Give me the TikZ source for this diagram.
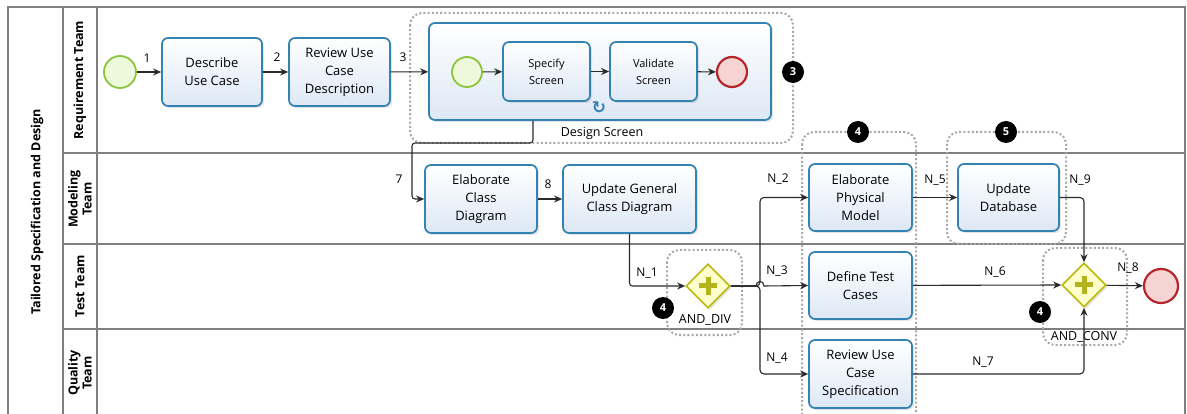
\documentclass[tikz,border=0pt]{standalone}
\usepackage{fontspec}
\setmainfont{Open Sans}
\newfontfamily\symfont{DejaVu Sans}
\usetikzlibrary{shapes.geometric,arrows.meta,shadows}
\definecolor{taskline}{HTML}{3383B2}
\definecolor{taskfill}{HTML}{DDE8F5}
\definecolor{startline}{HTML}{8CC43C}
\definecolor{startfill}{HTML}{EEF8DA}
\definecolor{endline}{HTML}{B5262B}
\definecolor{endfill}{HTML}{F7D4D4}
\definecolor{gwline}{HTML}{B9B80C}
\definecolor{gwfill}{HTML}{FFFFCC}
\definecolor{plusc}{HTML}{B3B31C}
\definecolor{flowc}{HTML}{2A2A2A}
\definecolor{grpc}{HTML}{A8A8A8}
\definecolor{framec}{HTML}{7F7F7F}
\tikzset{
  task/.style={draw=taskline,line width=1.7pt,rounded corners=6pt,top color=white,bottom color=taskfill,
    align=center,inner sep=1pt,font=\fontsize{13}{18}\selectfont,
    drop shadow={shadow xshift=2pt,shadow yshift=-2pt,opacity=.2}},
  subtask/.style={task,font=\fontsize{11}{17}\selectfont},
  startev/.style={circle,draw=startline,line width=1.8pt,fill=startfill,inner sep=0pt},
  endev/.style={circle,draw=endline,line width=2.2pt,fill=endfill,inner sep=0pt},
  gate/.style={diamond,draw=gwline,line width=1.6pt,fill=gwfill,inner sep=0pt,minimum size=44pt,
    drop shadow={shadow xshift=2pt,shadow yshift=-2pt,opacity=.2}},
  plus/.style={draw=plusc,line width=5pt},
  flow/.style={draw=flowc,line width=1.1pt,-{Stealth[length=8pt,width=7pt]}},
  lbl/.style={font=\fontsize{12}{14}\selectfont,inner sep=0pt},
  badge/.style={circle,fill=black,text=white,font=\bfseries\fontsize{11}{11}\selectfont,inner sep=0pt,minimum size=22pt},
  grp/.style={draw=grpc,line width=2pt,dash pattern=on 2pt off 2.2pt,rounded corners=12pt},
  lanetitle/.style={rotate=90,align=center,font=\bfseries\fontsize{12.5}{14}\selectfont},
  frm/.style={draw=framec,line width=1.2pt}
}
\begin{document}
\begin{tikzpicture}[x=1pt,y=-1pt]
%\draw[step=50,gray,very thin] (0,0) grid (1187,414); %background grid
\clip (0,0) rectangle (1187,414);
\fill[white] (0,0) rectangle (1187,414);

\draw[frm] (8,420) -- (8,7) -- (1185,7) -- (1185,420);
\draw[frm] (63,7) -- (63,420);
\draw[frm] (97,7) -- (97,420);
\draw[frm] (63,153) -- (1185,153);
\draw[frm] (63,244) -- (1185,244);
\draw[frm] (63,329) -- (1185,329);

\node[lanetitle] (pool) at (37,212) {Tailored Specification and Design};
\node[lanetitle] (lreq) at (80,80) {Requirement Team};
\node[lanetitle] (lmod) at (80,199) {Modeling\\Team};
\node[lanetitle] (ltest) at (80,286) {Test Team};
\node[lanetitle] (lqual) at (80,373) {Quality\\Team};

\draw[grp] (410,13) rectangle (793,143);
\draw[grp] (667,250) rectangle (742,335);
\draw[grp] (802,132) rectangle (916,430);
\draw[grp] (947,132) rectangle (1066,244);
\draw[grp] (1043,248) rectangle (1127,345);

\node[startev,minimum size=32pt] (start) at (120,72) {};
\node[task,minimum width=100pt,minimum height=68pt] (dsc) at (212,72) {Describe\\Use Case};
\node[task,minimum width=101pt,minimum height=68pt] (rev) at (339.5,72) {Review Use\\Case\\Description};
\node[task,minimum width=342pt,minimum height=97pt] (ds) at (600,71.5) {};
\node[startev,minimum size=30pt] (s0) at (467,72) {};
\node[subtask,minimum width=87pt,minimum height=59pt] (spec) at (546.5,71.5) {Specify\\Screen};
\node[subtask,minimum width=87pt,minimum height=59pt] (val) at (653.5,71.5) {Validate\\Screen};
\node[endev,minimum size=30pt] (e0) at (732,72) {};
\node[text=taskline,inner sep=0pt,font=\symfont\bfseries\fontsize{17}{17}\selectfont] (loop) at (599,108) {↻};
\node[font=\fontsize{12.5}{14}\selectfont] (dslbl) at (602,133) {Design Screen};

\node[task,minimum width=112pt,minimum height=68pt] (ecd) at (481,199) {Elaborate\\Class\\Diagram};
\node[task,minimum width=133pt,minimum height=68pt] (ugc) at (629.5,199) {Update General\\Class Diagram};
\node[task,minimum width=103pt,minimum height=67pt] (epm) at (860.5,197.5) {Elaborate\\Physical\\Model};
\node[task,minimum width=103pt,minimum height=67pt] (dtc) at (860.5,285.5) {Define Test\\Cases};
\node[task,minimum width=103pt,minimum height=68pt] (rucs) at (860.5,374) {Review Use\\Case\\Specification};
\node[task,minimum width=101pt,minimum height=67pt] (udb) at (1008.5,197.5) {Update\\Database};

\node[gate] (gdiv) at (708,286) {};
\draw[plus] ([xshift=-9pt]gdiv.center) -- ([xshift=9pt]gdiv.center);
\draw[plus] ([yshift=-9pt]gdiv.center) -- ([yshift=9pt]gdiv.center);
\node[font=\fontsize{12.5}{14}\selectfont] (gdivlbl) at (705,320) {AND\_DIV};
\node[gate] (gconv) at (1084,285) {};
\draw[plus] ([xshift=-9pt]gconv.center) -- ([xshift=9pt]gconv.center);
\draw[plus] ([yshift=-9pt]gconv.center) -- ([yshift=9pt]gconv.center);
\node[font=\fontsize{12.5}{14}\selectfont] (gconvlbl) at (1084,337) {AND\_CONV};
\node[endev,minimum size=34pt] (end) at (1161,286) {};

\coordinate (c7x) at (533,0);
\coordinate (c7y) at (412,143);
\coordinate (jn) at (760,286);

\draw[flow] (start) -- (dsc);
\draw[flow] (dsc) -- (rev);
\draw[flow] (rev) -- (ds);
\draw[flow] (s0) -- (spec);
\draw[flow] (spec) -- (val);
\draw[flow] (val) -- (e0);
\draw[flow,rounded corners=3pt] (ds.south -| c7x) |- (c7y) |- (ecd.west);
\draw[flow] (ecd) -- (ugc);
\draw[flow,rounded corners=3pt] (ugc.south) |- (gdiv.west);
\draw[flow,rounded corners=4pt] (gdiv.east) -- (jn) |- (epm.west);
\draw[flow,rounded corners=4pt] (gdiv.east) -- (jn) |- (rucs.west);
\draw[flow] (gdiv.east) -- ([xshift=-4pt]jn) .. controls ([xshift=-4pt,yshift=6pt]jn) and ([xshift=4pt,yshift=6pt]jn) .. ([xshift=4pt]jn) -- (dtc.west);
\draw[flow] (epm) -- (udb);
\draw[flow,rounded corners=4pt] (udb.east) -| (gconv.north);
\draw[flow] (dtc) -- (gconv.west);
\draw[flow,rounded corners=4pt] (rucs.east) -| (gconv.south);
\draw[flow] (gconv) -- (end);

\node[lbl] (l1) at (147,58) {1};
\node[lbl] (l2) at (277,57) {2};
\node[lbl] (l3) at (403,57) {3};
\node[lbl] (l7) at (399,179) {7};
\node[lbl] (l8) at (548,184) {8};
\node[lbl] (ln1) at (647,273) {N\_1};
\node[lbl] (ln2) at (778,179) {N\_2};
\node[lbl] (ln3) at (777,271) {N\_3};
\node[lbl] (ln4) at (777,358) {N\_4};
\node[lbl] (ln5) at (935,180) {N\_5};
\node[lbl] (ln6) at (995,272) {N\_6};
\node[lbl] (ln7) at (983,362) {N\_7};
\node[lbl] (ln8) at (1128,268) {N\_8};
\node[lbl] (ln9) at (1080,180) {N\_9};

\node[badge] (b3) at (793,72) {3};
\node[badge] (b4a) at (858,132) {4};
\node[badge] (b5) at (1006,132) {5};
\node[badge] (b4b) at (663,308) {4};
\node[badge] (b4c) at (1040,312) {4};
\end{tikzpicture}
\end{document}
